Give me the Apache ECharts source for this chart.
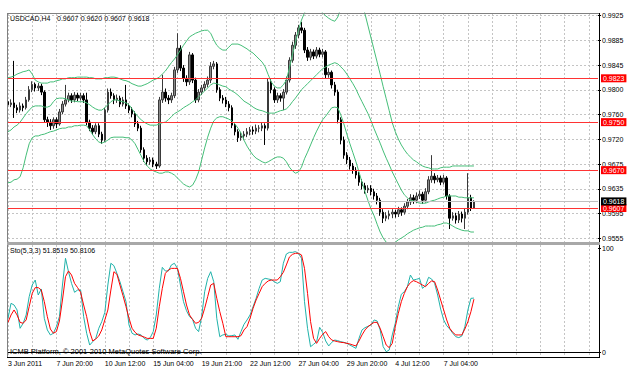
<!DOCTYPE html>
<html><head><meta charset="utf-8">
<script src="https://cdn.jsdelivr.net/npm/echarts@6/dist/echarts.min.js"></script>
<style>html,body{margin:0;padding:0;background:#fff}#c{width:636px;height:372px}</style>
</head><body><div id="c"></div><script>
const dateLabels = ['3 Jun 2011','7 Jun 20:00','10 Jun 12:00','15 Jun 04:00','19 Jun 21:00','22 Jun 12:00','27 Jun 04:00','29 Jun 20:00','4 Jul 12:00','7 Jul 04:00'];
const priceTickLabels = ['0.9555','0.9595','0.9635','0.9675','0.9720','0.9760','0.9800','0.9845','0.9885','0.9925'];
const stochTickLabels = ['0','100'];
const headerSymbol = 'USDCAD,H4';
const headerPrices = ['0.9607', '0.9620', '0.9607', '0.9618'];
const stochText = 'Sto(5,3,3) 51.8519 50.8106';
const footerText = 'ICMB Platform, \u00a9 2001-2010 MetaQuotes Software Corp.';
const levelLines = [0.9823, 0.9750, 0.9670, 0.9607];
const bidPrice = 0.9618;
const slotCount = 196;

const opens = [0.9784,0.9779,0.9782,0.9774,0.9770,0.9777,0.9774,0.9787,0.9804,0.9813,
0.9807,0.9810,0.9800,0.9754,0.9750,0.9744,0.9754,0.9747,0.9767,0.9780,
0.9787,0.9794,0.9787,0.9795,0.9790,0.9794,0.9787,0.9750,0.9740,0.9734,
0.9744,0.9730,0.9720,0.9770,0.9800,0.9794,0.9787,0.9790,0.9780,0.9787,
0.9777,0.9770,0.9764,0.9747,0.9740,0.9704,0.9690,0.9684,0.9687,0.9680,
0.9677,0.9787,0.9800,0.9790,0.9787,0.9794,0.9837,0.9873,0.9840,0.9823,
0.9817,0.9862,0.9820,0.9787,0.9800,0.9807,0.9813,0.9820,0.9843,0.9847,
0.9804,0.9790,0.9787,0.9780,0.9774,0.9745,0.9734,0.9724,0.9727,0.9730,
0.9734,0.9737,0.9735,0.9740,0.9740,0.9744,0.9740,0.9817,0.9804,0.9787,
0.9794,0.9790,0.9800,0.9820,0.9853,0.9878,0.9895,0.9907,0.9903,0.9870,
0.9858,0.9867,0.9860,0.9870,0.9863,0.9867,0.9829,0.9833,0.9812,0.9800,
0.9754,0.9720,0.9695,0.9687,0.9677,0.9670,0.9662,0.9650,0.9644,0.9637,
0.9640,0.9634,0.9627,0.9620,0.9600,0.9590,0.9594,0.9597,0.9600,0.9597,
0.9604,0.9600,0.9610,0.9617,0.9624,0.9620,0.9627,0.9630,0.9620,0.9634,
0.9654,0.9660,0.9654,0.9657,0.9650,0.9657,0.9627,0.9590,0.9594,0.9587,
0.9597,0.9590,0.9600,0.9624,0.9607];
const closes = [0.9779,0.9782,0.9774,0.9770,0.9777,0.9774,0.9787,0.9804,0.9813,0.9807,
0.9810,0.9800,0.9754,0.9750,0.9744,0.9754,0.9747,0.9767,0.9780,0.9787,
0.9794,0.9787,0.9795,0.9790,0.9794,0.9787,0.9750,0.9740,0.9734,0.9744,
0.9730,0.9720,0.9770,0.9800,0.9794,0.9787,0.9790,0.9780,0.9787,0.9777,
0.9770,0.9764,0.9747,0.9740,0.9704,0.9690,0.9684,0.9687,0.9680,0.9677,
0.9787,0.9800,0.9790,0.9787,0.9794,0.9837,0.9873,0.9840,0.9823,0.9817,
0.9862,0.9820,0.9787,0.9800,0.9807,0.9813,0.9820,0.9843,0.9847,0.9804,
0.9790,0.9787,0.9780,0.9774,0.9745,0.9734,0.9724,0.9727,0.9730,0.9734,
0.9737,0.9735,0.9740,0.9740,0.9744,0.9740,0.9817,0.9804,0.9787,0.9794,
0.9790,0.9800,0.9820,0.9853,0.9878,0.9895,0.9907,0.9903,0.9870,0.9858,
0.9867,0.9860,0.9870,0.9863,0.9867,0.9829,0.9833,0.9812,0.9800,0.9754,
0.9720,0.9695,0.9687,0.9677,0.9670,0.9662,0.9650,0.9644,0.9637,0.9640,
0.9634,0.9627,0.9620,0.9600,0.9590,0.9594,0.9597,0.9600,0.9597,0.9604,
0.9600,0.9610,0.9617,0.9624,0.9620,0.9627,0.9630,0.9620,0.9634,0.9654,
0.9660,0.9654,0.9657,0.9650,0.9657,0.9627,0.9590,0.9594,0.9587,0.9597,
0.9590,0.9600,0.9624,0.9607,0.9618];
const highs = [0.9790,0.9788,0.9852,0.9779,0.9783,0.9781,0.9792,0.9810,0.9818,0.9816,
0.9815,0.9814,0.9803,0.9759,0.9755,0.9758,0.9758,0.9772,0.9785,0.9812,
0.9799,0.9798,0.9800,0.9799,0.9799,0.9798,0.9799,0.9754,0.9745,0.9748,
0.9748,0.9734,0.9774,0.9806,0.9806,0.9798,0.9796,0.9794,0.9792,0.9812,
0.9781,0.9775,0.9768,0.9752,0.9744,0.9708,0.9695,0.9692,0.9691,0.9684,
0.9792,0.9829,0.9806,0.9795,0.9799,0.9842,0.9898,0.9878,0.9845,0.9828,
0.9867,0.9865,0.9824,0.9805,0.9812,0.9818,0.9826,0.9850,0.9852,0.9850,
0.9808,0.9795,0.9792,0.9785,0.9778,0.9750,0.9738,0.9733,0.9735,0.9740,
0.9742,0.9743,0.9746,0.9745,0.9750,0.9748,0.9822,0.9823,0.9808,0.9799,
0.9798,0.9805,0.9826,0.9858,0.9884,0.9900,0.9912,0.9917,0.9907,0.9875,
0.9872,0.9871,0.9875,0.9874,0.9872,0.9870,0.9840,0.9836,0.9817,0.9804,
0.9758,0.9726,0.9700,0.9692,0.9682,0.9675,0.9667,0.9655,0.9649,0.9645,
0.9645,0.9639,0.9632,0.9624,0.9605,0.9600,0.9603,0.9605,0.9604,0.9609,
0.9608,0.9615,0.9622,0.9630,0.9629,0.9633,0.9636,0.9634,0.9640,0.9660,
0.9695,0.9665,0.9662,0.9661,0.9662,0.9660,0.9630,0.9600,0.9599,0.9602,
0.9601,0.9606,0.9665,0.9629,0.9620];
const lows = [0.9774,0.9775,0.9757,0.9765,0.9766,0.9768,0.9771,0.9784,0.9800,0.9801,
0.9802,0.9795,0.9749,0.9742,0.9737,0.9739,0.9740,0.9744,0.9763,0.9776,
0.9783,0.9782,0.9783,0.9785,0.9786,0.9782,0.9745,0.9735,0.9729,0.9730,
0.9725,0.9714,0.9717,0.9766,0.9789,0.9780,0.9782,0.9775,0.9776,0.9772,
0.9765,0.9758,0.9742,0.9735,0.9699,0.9684,0.9678,0.9679,0.9675,0.9672,
0.9674,0.9782,0.9784,0.9780,0.9782,0.9790,0.9832,0.9835,0.9817,0.9810,
0.9812,0.9815,0.9782,0.9783,0.9795,0.9802,0.9808,0.9815,0.9838,0.9799,
0.9785,0.9781,0.9775,0.9768,0.9740,0.9728,0.9717,0.9719,0.9720,0.9725,
0.9728,0.9729,0.9730,0.9733,0.9735,0.9712,0.9736,0.9798,0.9782,0.9782,
0.9784,0.9770,0.9796,0.9816,0.9849,0.9872,0.9890,0.9898,0.9865,0.9852,
0.9853,0.9855,0.9856,0.9858,0.9858,0.9823,0.9824,0.9806,0.9794,0.9748,
0.9713,0.9689,0.9680,0.9671,0.9664,0.9656,0.9644,0.9638,0.9631,0.9632,
0.9628,0.9621,0.9613,0.9594,0.9582,0.9585,0.9588,0.9590,0.9591,0.9592,
0.9594,0.9596,0.9605,0.9612,0.9614,0.9615,0.9622,0.9614,0.9616,0.9630,
0.9649,0.9648,0.9650,0.9645,0.9646,0.9621,0.9572,0.9586,0.9581,0.9582,
0.9583,0.9572,0.9596,0.9602,0.9607];
const bandUpper = [0.9824,0.9825,0.9827,0.9830,0.9832,0.9834,0.9835,0.9837,0.9830,0.9820,
0.9817,0.9815,0.9815,0.9815,0.9817,0.9817,0.9819,0.9820,0.9822,0.9822,
0.9824,0.9824,0.9824,0.9825,0.9825,0.9825,0.9825,0.9824,0.9824,0.9822,
0.9822,0.9822,0.9824,0.9824,0.9825,0.9825,0.9824,0.9822,0.9820,0.9819,
0.9817,0.9814,0.9812,0.9810,0.9810,0.9812,0.9814,0.9817,0.9820,0.9822,
0.9825,0.9830,0.9835,0.9842,0.9849,0.9855,0.9862,0.9870,0.9878,0.9885,
0.9892,0.9895,0.9898,0.9900,0.9902,0.9903,0.9903,0.9898,0.9887,0.9878,
0.9873,0.9870,0.9870,0.9875,0.9880,0.9880,0.9880,0.9878,0.9875,0.9872,
0.9868,0.9865,0.9860,0.9855,0.9850,0.9842,0.9829,0.9817,0.9810,0.9807,
0.9807,0.9812,0.9820,0.9840,0.9862,0.9883,0.9903,0.9920,0.9932,0.9940,
0.9945,0.9945,0.9942,0.9937,0.9932,0.9927,0.9923,0.9920,0.9918,0.9925,
0.9940,0.9953,0.9967,0.9973,0.9977,0.9973,0.9963,0.9947,0.9930,0.9910,
0.9890,0.9870,0.9850,0.9830,0.9809,0.9789,0.9769,0.9749,0.9734,0.9722,
0.9712,0.9704,0.9697,0.9692,0.9687,0.9684,0.9680,0.9677,0.9675,0.9674,
0.9672,0.9672,0.9672,0.9674,0.9675,0.9675,0.9675,0.9677,0.9677,0.9677,
0.9677,0.9677,0.9677,0.9677,0.9677];
const bandMiddle = [0.9734,0.9737,0.9742,0.9745,0.9750,0.9757,0.9764,0.9770,0.9775,0.9777,
0.9777,0.9777,0.9775,0.9775,0.9777,0.9784,0.9789,0.9790,0.9790,0.9789,
0.9787,0.9785,0.9785,0.9784,0.9784,0.9784,0.9782,0.9779,0.9775,0.9772,
0.9770,0.9770,0.9774,0.9779,0.9784,0.9787,0.9787,0.9785,0.9784,0.9782,
0.9779,0.9772,0.9765,0.9759,0.9754,0.9750,0.9747,0.9745,0.9745,0.9745,
0.9747,0.9749,0.9750,0.9754,0.9759,0.9764,0.9767,0.9770,0.9774,0.9777,
0.9780,0.9784,0.9787,0.9792,0.9797,0.9802,0.9807,0.9812,0.9815,0.9814,
0.9812,0.9810,0.9809,0.9805,0.9802,0.9799,0.9795,0.9790,0.9785,0.9782,
0.9779,0.9775,0.9772,0.9770,0.9769,0.9767,0.9765,0.9765,0.9765,0.9767,
0.9769,0.9770,0.9772,0.9777,0.9784,0.9790,0.9797,0.9804,0.9809,0.9814,
0.9819,0.9824,0.9829,0.9834,0.9839,0.9842,0.9845,0.9847,0.9849,0.9847,
0.9842,0.9837,0.9830,0.9822,0.9814,0.9805,0.9794,0.9784,0.9774,0.9764,
0.9752,0.9739,0.9727,0.9715,0.9702,0.9690,0.9679,0.9667,0.9657,0.9647,
0.9637,0.9629,0.9624,0.9620,0.9619,0.9617,0.9615,0.9615,0.9615,0.9617,
0.9619,0.9620,0.9622,0.9624,0.9625,0.9627,0.9627,0.9627,0.9627,0.9625,
0.9625,0.9624,0.9624,0.9624,0.9624];
const bandLower = [0.9649,0.9650,0.9654,0.9655,0.9659,0.9674,0.9695,0.9714,0.9724,0.9727,
0.9727,0.9729,0.9730,0.9732,0.9734,0.9735,0.9737,0.9739,0.9740,0.9740,
0.9742,0.9742,0.9744,0.9744,0.9745,0.9745,0.9744,0.9737,0.9729,0.9722,
0.9717,0.9715,0.9717,0.9720,0.9724,0.9725,0.9725,0.9725,0.9725,0.9724,
0.9724,0.9720,0.9714,0.9704,0.9694,0.9684,0.9677,0.9672,0.9669,0.9667,
0.9665,0.9665,0.9667,0.9667,0.9665,0.9662,0.9657,0.9652,0.9647,0.9644,
0.9642,0.9645,0.9654,0.9667,0.9687,0.9707,0.9725,0.9740,0.9752,0.9757,
0.9759,0.9759,0.9757,0.9755,0.9752,0.9747,0.9740,0.9732,0.9720,0.9710,
0.9702,0.9695,0.9690,0.9687,0.9684,0.9682,0.9684,0.9687,0.9690,0.9692,
0.9692,0.9690,0.9684,0.9675,0.9669,0.9665,0.9667,0.9675,0.9689,0.9700,
0.9712,0.9724,0.9735,0.9745,0.9754,0.9760,0.9767,0.9774,0.9775,0.9774,
0.9762,0.9747,0.9730,0.9714,0.9699,0.9684,0.9667,0.9650,0.9634,0.9619,
0.9605,0.9594,0.9580,0.9567,0.9557,0.9550,0.9547,0.9547,0.9550,0.9554,
0.9557,0.9560,0.9564,0.9567,0.9570,0.9572,0.9574,0.9575,0.9577,0.9577,
0.9577,0.9577,0.9579,0.9580,0.9582,0.9582,0.9580,0.9577,0.9574,0.9572,
0.9570,0.9569,0.9569,0.9567,0.9567];
const stochMain = [32.4,46.8,45.2,40.4,22.8,27.6,35.6,53.2,64.4,69.2,
54.8,60.6,32.4,21.2,16.4,18.0,24.4,34.0,64.4,90.1,
77.2,66.0,57.4,59.6,59.6,34.0,18.0,6.7,9.9,13.1,
22.8,29.2,38.1,64.4,85.3,83.0,75.6,67.6,58.0,48.4,
26.0,18.0,16.4,17.3,16.4,13.1,11.5,13.8,19.6,35.6,
61.2,81.4,77.9,77.9,83.7,85.3,80.4,64.4,48.4,39.7,
34.0,31.4,22.8,19.6,34.0,58.0,70.8,77.2,67.6,32.4,
14.7,16.4,17.0,15.4,15.7,16.4,12.2,19.6,26.6,30.8,
35.6,43.6,51.6,61.2,69.2,70.8,70.2,69.6,67.6,66.0,
67.6,85.3,94.2,95.8,95.8,96.5,94.9,90.1,48.4,22.8,
5.1,7.4,9.9,23.7,18.9,10.6,5.8,9.3,11.5,10.9,
9.9,9.3,8.3,6.7,5.1,3.5,13.1,21.2,23.4,24.7,
26.0,30.8,29.8,21.2,5.1,0.3,1.9,16.4,27.6,43.6,
55.5,58.0,62.8,74.0,69.2,69.9,70.8,61.2,63.8,71.8,
70.2,66.0,54.8,41.3,30.8,25.3,22.1,18.0,14.7,13.8,
15.4,24.4,40.4,51.6,51.85];
const stochSignal = [28.5,35.6,40.4,35.6,28.5,27.6,30.8,43.6,56.4,61.9,
61.9,59.6,48.4,34.0,22.1,18.0,19.6,29.8,50.0,72.4,
77.9,74.0,66.0,61.9,57.4,45.2,34.0,19.6,10.6,12.5,
15.4,21.2,30.8,40.4,59.6,77.2,74.7,64.4,54.2,43.6,
32.4,22.8,18.9,16.4,15.4,14.4,13.1,13.1,13.1,22.8,
43.6,61.2,75.6,78.8,80.4,80.4,80.4,70.8,58.0,45.2,
35.6,31.4,27.6,28.5,32.4,42.0,53.2,64.4,66.0,51.6,
38.8,27.6,14.7,14.7,14.7,14.7,14.7,15.7,21.2,24.4,
32.4,42.0,50.0,56.4,62.8,66.0,68.3,69.2,69.2,69.2,
72.4,76.6,83.7,91.3,93.9,94.9,94.9,93.3,80.4,56.4,
29.2,13.1,8.3,13.1,17.0,19.6,14.7,11.5,10.6,9.9,
9.3,9.0,8.3,7.7,6.7,5.8,10.6,16.4,21.2,24.4,
26.6,28.5,28.5,22.8,14.7,6.7,4.2,8.3,24.4,37.2,
48.4,56.4,62.8,66.7,68.6,67.6,66.0,64.4,62.8,66.0,
68.3,67.6,59.6,50.0,40.4,30.8,22.8,18.9,16.4,16.4,
16.4,22.1,29.2,38.8,50.81];

const FONT = '"Liberation Sans", Arial, sans-serif';
const slots = [];
for (let i = 0; i < slotCount; i++) slots.push(String(i));
const candles = opens.map((o, i) => [o, closes[i], lows[i], highs[i]]);
const gridColor = '#c4c4c4';
const dotted = { color: gridColor, type: [2, 2], width: 1 };
const bandColor = '#45be78';
const bandLine = (d) => ({ type: 'line', xAxisIndex: 0, yAxisIndex: 0, data: d, symbol: 'none',
  clip: true, lineStyle: { color: bandColor, width: 1 }, z: 3 });
const textStyle = (t, size) => ({ text: t, font: size + 'px ' + FONT, fill: '#000', verticalAlign: 'middle' });
const headerX = [57, 80.7, 104.3, 128];

const chart = echarts.init(document.getElementById('c'), null, { renderer: 'svg' });
chart.setOption({
  animation: false,
  backgroundColor: '#ffffff',
  grid: [
    { left: 8, right: 38, top: 13, bottom: 130 },
    { left: 8, right: 38, top: 15.7, bottom: 133.7 },
    { left: 8, right: 38, top: 245, bottom: 15 },
    { left: 8, right: 38, top: 248, bottom: 20 }
  ],
  xAxis: [
    { gridIndex: 0, type: 'category', data: slots, boundaryGap: false,
      axisLine: { show: false }, axisTick: { show: false }, axisLabel: { show: false },
      splitLine: { show: true, interval: 7, lineStyle: dotted } },
    { gridIndex: 1, type: 'category', data: slots, boundaryGap: false, show: false },
    { gridIndex: 2, type: 'category', data: slots, boundaryGap: false,
      axisLine: { show: true, lineStyle: { color: '#000', width: 1 } },
      axisTick: { show: false },
      axisLabel: { interval: 15, align: 'left', margin: 3, fontSize: 7, fontFamily: FONT, color: '#000',
        formatter: (v, i) => dateLabels[i / 16] || '' },
      splitLine: { show: true, interval: 7, lineStyle: dotted } },
    { gridIndex: 3, type: 'category', data: slots, boundaryGap: false, show: false }
  ],
  yAxis: [
    { gridIndex: 0, type: 'value', min: 0.955039, max: 0.993174, show: false },
    { gridIndex: 1, type: 'value', min: 0, max: 9, interval: 1, position: 'right',
      axisLine: { show: false },
      axisTick: { show: true, length: 3, lineStyle: { color: '#000' } },
      axisLabel: { margin: 4, fontSize: 7, fontFamily: FONT, color: '#000',
        formatter: v => priceTickLabels[Math.round(v)] },
      splitLine: { show: true, lineStyle: dotted } },
    { gridIndex: 2, type: 'value', min: -4.808, max: 102.885, show: false },
    { gridIndex: 3, type: 'value', min: 0, max: 100, interval: 100, position: 'right',
      axisLine: { show: false },
      axisTick: { show: true, length: 3, lineStyle: { color: '#000' } },
      axisLabel: { margin: 4, fontSize: 7, fontFamily: FONT, color: '#000',
        formatter: v => stochTickLabels[Math.round(v / 100)] },
      splitLine: { show: false } }
  ],
  series: [
    { type: 'candlestick', xAxisIndex: 0, yAxisIndex: 0, data: candles, barWidth: 2, z: 2,
      itemStyle: { color: '#8a8a8a', color0: '#000000', borderColor: '#3a3a3a', borderColor0: '#000000', borderWidth: 1 },
      markLine: {
        symbol: 'none', silent: true, animation: false, precision: 4,
        label: { position: 'end', distance: 3, fontSize: 7, fontFamily: FONT, padding: [1, 2, 0, 2],
          formatter: p => Number(p.value).toFixed(4) },
        data: levelLines.map(v => ({ yAxis: v, lineStyle: { color: '#ff3333', type: 'solid', width: 1 },
            label: { backgroundColor: '#ff0000', color: '#ffffff' } }))
          .concat([{ yAxis: bidPrice, lineStyle: { color: '#c0c0c0', type: 'solid', width: 1 },
            label: { backgroundColor: '#000000', color: '#ffffff' } }])
      } },
    bandLine(bandUpper),
    bandLine(bandMiddle),
    bandLine(bandLower),
    { type: 'line', xAxisIndex: 2, yAxisIndex: 2, data: stochMain, symbol: 'none',
      lineStyle: { color: '#20b2aa', width: 1 } },
    { type: 'line', xAxisIndex: 2, yAxisIndex: 2, data: stochSignal, symbol: 'none',
      lineStyle: { color: '#ff0000', width: 1 } }
  ],
  graphic: [
    { type: 'line', z: 100, shape: { x1: 7.5, y1: 13, x2: 7.5, y2: 357 }, style: { stroke: '#808080', lineWidth: 1 } },
    { type: 'line', z: 100, shape: { x1: 7, y1: 13.5, x2: 600, y2: 13.5 }, style: { stroke: '#808080', lineWidth: 1 } },
    { type: 'line', z: 100, shape: { x1: 599.5, y1: 13, x2: 599.5, y2: 358 }, style: { stroke: '#000000', lineWidth: 1 } },
    { type: 'line', z: 100, shape: { x1: 7, y1: 357.5, x2: 600, y2: 357.5 }, style: { stroke: '#000000', lineWidth: 1 } },
    { type: 'rect', z: 100, shape: { x: 7, y: 242, width: 593, height: 3 }, style: { fill: '#a8a8a8' } },
    { type: 'text', z: 100, x: 10, y: 18, style: textStyle(headerSymbol, 7) }
  ].concat(headerPrices.map((t, k) => ({ type: 'text', z: 100, x: headerX[k], y: 18, style: textStyle(t, 7) })))
   .concat([
    { type: 'text', z: 100, x: 10, y: 250, style: textStyle(stochText, 7) },
    { type: 'text', z: 100, x: 10, y: 351, style: textStyle(footerText, 7.5) }
  ])
});
</script></body></html>
